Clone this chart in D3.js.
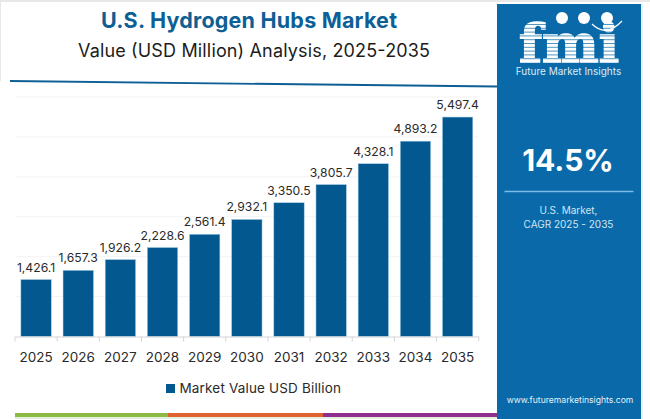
<!DOCTYPE html>
<html>
<head>
<meta charset="utf-8">
<script src="https://cdn.jsdelivr.net/npm/d3@7"></script>
<style>
  html, body { margin: 0; padding: 0; background: #fff; }
  svg { display: block; }
  text { font-family: Inter, "Open Sans", sans-serif; }
</style>
</head>
<body>
<svg id="chart" width="650" height="419"></svg>
<script>
const years = ['2025', '2026', '2027', '2028', '2029', '2030', '2031', '2032', '2033', '2034', '2035'];
const marketValues = [1426.1, 1657.3, 1926.2, 2228.6, 2561.4, 2932.1, 3350.5, 3805.7, 4328.1, 4893.2, 5497.4];
const gridTicks = [0, 1000, 2000, 3000, 4000, 5000, 6000];
const footerColors = ['#8cbb45', '#e0602f', '#8e2e8e'];
const footerStops = [15, 168, 323, 497];
const logoCircles = [562, 584, 607];

const BLUE = '#03588f';
const PANEL = '#0a69a8';

const svg = d3.select('#chart');

// page edges
svg.append('rect').attr('width', 650).attr('height', 2).attr('fill', '#e8e8e8');
svg.append('rect').attr('y', 0).attr('width', 1).attr('height', 81).attr('fill', '#e8e8e8');

// titles
svg.append('text')
  .attr('x', 101).attr('y', 28)
  .attr('font-size', 21.5).attr('font-weight', 700)
  .attr('textLength', 296).attr('lengthAdjust', 'spacing')
  .attr('fill', '#0d5f95')
  .text('U.S. Hydrogen Hubs Market');

svg.append('text')
  .attr('x', 78).attr('y', 57)
  .attr('font-size', 18)
  .attr('textLength', 352).attr('lengthAdjust', 'spacing')
  .attr('fill', '#1c1c1c')
  .text('Value (USD Million) Analysis, 2025-2035');

// header rule, slightly slanted in the original
svg.append('line')
  .attr('x1', 10).attr('y1', 81).attr('x2', 497).attr('y2', 86.5)
  .attr('stroke', '#0d5f95').attr('stroke-width', 1.8);

// scales
const x = d3.scaleBand().domain(years).range([15, 478.7]).paddingInner(0.28).paddingOuter(0.14);
const y = d3.scaleLinear().domain([0, 6000]).range([336.5, 97]);

// gridlines
svg.append('g').selectAll('line')
  .data(gridTicks.slice(1))
  .join('line')
  .attr('x1', 15).attr('x2', 478.7)
  .attr('y1', d => y(d)).attr('y2', d => y(d))
  .attr('stroke', '#f3f3f3');

// bars
svg.append('g').selectAll('rect')
  .data(marketValues)
  .join('rect')
  .attr('x', (d, i) => x(years[i]))
  .attr('y', d => y(d))
  .attr('width', x.bandwidth())
  .attr('height', d => y(0) - y(d))
  .attr('fill', BLUE)
  .attr('stroke', '#9fcbe6').attr('stroke-width', 0.5);

// value labels
svg.append('g').selectAll('text')
  .data(marketValues)
  .join('text')
  .attr('x', (d, i) => x(years[i]) + x.bandwidth() / 2)
  .attr('y', d => y(d) - 8)
  .attr('text-anchor', 'middle')
  .attr('font-size', 12.2)
  .attr('fill', '#2a2a2a')
  .text(d => d3.format(',.1f')(d));

// x axis
const axis = svg.append('g')
  .attr('transform', 'translate(0,336.5)')
  .call(d3.axisBottom(x).tickSize(0).tickPadding(15.5));
axis.select('.domain').attr('stroke', '#d4d4d4');
axis.selectAll('text').attr('font-size', 13.5).attr('fill', '#2a2a2a');

// axis ticks sit between the categories
const step = x.step();
axis.selectAll('.sep')
  .data(d3.range(years.length + 1))
  .join('line')
  .attr('class', 'sep')
  .attr('x1', d => 15 + d * step).attr('x2', d => 15 + d * step)
  .attr('y1', 0).attr('y2', 5)
  .attr('stroke', '#d4d4d4');

// legend
svg.append('rect')
  .attr('x', 166).attr('y', 384).attr('width', 9).attr('height', 9)
  .attr('fill', BLUE);
svg.append('text')
  .attr('x', 179.5).attr('y', 393)
  .attr('font-size', 13.5)
  .attr('textLength', 161.5).attr('lengthAdjust', 'spacing')
  .attr('fill', '#2a2a2a')
  .text('Market Value USD Billion');

// footer stripe
svg.append('rect').attr('x', 15).attr('y', 417).attr('width', 482).attr('height', 2).attr('fill', '#e4eedd');
svg.append('g').selectAll('rect')
  .data(footerColors)
  .join('rect')
  .attr('x', (d, i) => footerStops[i])
  .attr('y', 413)
  .attr('width', (d, i) => footerStops[i + 1] - footerStops[i])
  .attr('height', 4)
  .attr('fill', d => d);

// right panel
svg.append('rect').attr('x', 497).attr('y', 4).attr('width', 144).attr('height', 415).attr('fill', PANEL);
svg.append('line').attr('x1', 642).attr('x2', 642).attr('y1', 4).attr('y2', 419).attr('stroke', '#cfe3f0');

// logo
svg.append('text')
  .attr('x', 519).attr('y', 62)
  .attr('font-size', 52).attr('font-weight', 700)
  .attr('fill', '#fff')
  .attr('stroke', '#fff').attr('stroke-width', 1.6)
  .style('font-family', '"DejaVu Serif", serif')
  .attr('textLength', 100).attr('lengthAdjust', 'spacingAndGlyphs')
  .text('fmi');

// the logo letters are striped
svg.append('g').selectAll('rect')
  .data(d3.range(24, 62, 3.8))
  .join('rect')
  .attr('x', 515).attr('y', d => d)
  .attr('width', 108).attr('height', 1)
  .attr('fill', PANEL).attr('opacity', 0.7);

svg.append('g').selectAll('circle')
  .data(logoCircles)
  .join('circle')
  .attr('cx', d => d).attr('cy', 18).attr('r', 6)
  .attr('fill', '#fff');

svg.append('path')
  .attr('d', 'M592 24 Q606 38 622 21')
  .attr('fill', 'none').attr('stroke', '#fff').attr('stroke-width', 1.2);

svg.append('text')
  .attr('x', 568.5).attr('y', 74.5)
  .attr('text-anchor', 'middle')
  .attr('font-size', 10)
  .attr('fill', '#dcecf7')
  .text('Future Market Insights');

svg.append('text')
  .attr('x', 568).attr('y', 171)
  .attr('text-anchor', 'middle')
  .attr('font-size', 30).attr('font-weight', 700)
  .attr('fill', '#fff')
  .text('14.5%');

svg.append('line')
  .attr('x1', 504.5).attr('x2', 633.5).attr('y1', 191.5).attr('y2', 191.5)
  .attr('stroke', '#7cbce6').attr('stroke-width', 1.5);

svg.append('text')
  .attr('x', 568.5).attr('y', 214)
  .attr('text-anchor', 'middle')
  .attr('font-size', 10)
  .attr('fill', '#cfe5f5')
  .text('U.S. Market,');

svg.append('text')
  .attr('x', 568.5).attr('y', 228)
  .attr('text-anchor', 'middle')
  .attr('font-size', 10)
  .attr('fill', '#cfe5f5')
  .text('CAGR 2025 - 2035');

svg.append('text')
  .attr('x', 570).attr('y', 403)
  .attr('text-anchor', 'middle')
  .attr('font-size', 8.6)
  .attr('fill', '#e3f0f9')
  .text('www.futuremarketinsights.com');
</script>
</body>
</html>
